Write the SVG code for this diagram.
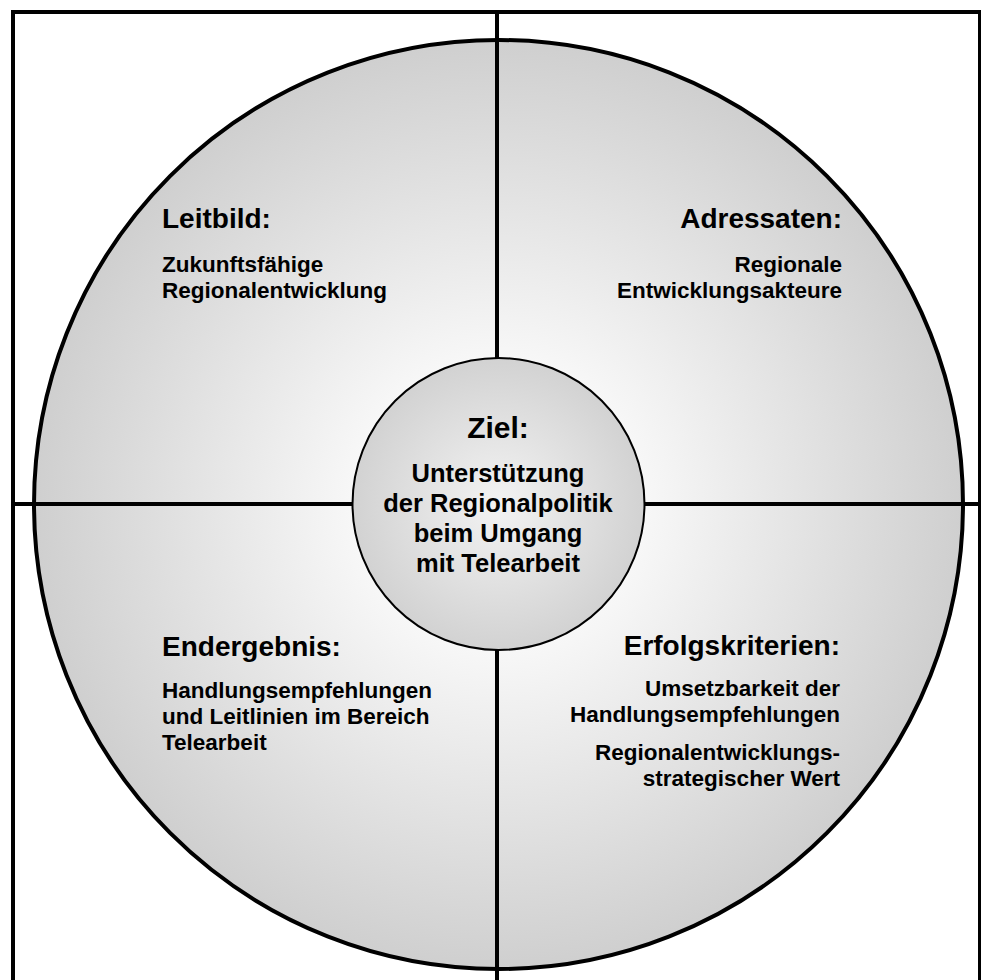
<svg xmlns="http://www.w3.org/2000/svg" width="981" height="980" viewBox="0 0 981 980">
  <defs>
    <radialGradient id="outerFill" cx="498.5" cy="504.5" r="464.5" gradientUnits="userSpaceOnUse">
      <stop offset="0" stop-color="#ffffff"/>
      <stop offset="0.25" stop-color="#fbfbfb"/>
      <stop offset="1" stop-color="#cfcfcf"/>
    </radialGradient>
    <radialGradient id="innerFill" cx="498.5" cy="504" r="146" gradientUnits="userSpaceOnUse">
      <stop offset="0" stop-color="#f3f3f3"/>
      <stop offset="1" stop-color="#d2d2d2"/>
    </radialGradient>
  </defs>
  <style>
    .title { font-family: "Liberation Sans", Arial, sans-serif; font-weight: bold; font-size: 28px; fill: #000; }
    .body { font-family: "Liberation Sans", Arial, sans-serif; font-weight: bold; font-size: 22.5px; fill: #000; }
    .ztitle { font-family: "Liberation Sans", Arial, sans-serif; font-weight: bold; font-size: 30px; fill: #000; text-anchor: middle; }
    .zbody { font-family: "Liberation Sans", Arial, sans-serif; font-weight: bold; font-size: 25.5px; fill: #000; text-anchor: middle; }
    .end { text-anchor: end; }
    .axis { stroke: #000; stroke-width: 4; fill: none; }
  </style>

  <rect width="981" height="980" fill="#ffffff"/>

  <!-- outer frame, its bottom edge lies below the visible area -->
  <g id="frame">
    <rect x="13" y="12" width="967" height="1000" fill="none" stroke="#000" stroke-width="4"/>
  </g>

  <!-- large circle with the four fields -->
  <g id="outer-circle">
    <circle cx="498.5" cy="504.5" r="464.5" fill="url(#outerFill)" stroke="#000" stroke-width="4"/>
  </g>

  <!-- dividing cross -->
  <g id="connectors">
    <line class="axis" x1="497" y1="12" x2="497" y2="985"/>
    <line class="axis" x1="13" y1="504" x2="978" y2="504"/>
  </g>

  <g id="leitbild">
    <text class="title" x="162" y="228">Leitbild:</text>
    <text class="body" x="162" y="272">Zukunftsfähige</text>
    <text class="body" x="162" y="298">Regionalentwicklung</text>
  </g>

  <g id="adressaten">
    <text class="title end" x="842" y="228">Adressaten:</text>
    <text class="body end" x="842" y="272">Regionale</text>
    <text class="body end" x="842" y="298">Entwicklungsakteure</text>
  </g>

  <g id="endergebnis">
    <text class="title" x="162" y="656">Endergebnis:</text>
    <text class="body" x="162" y="698">Handlungsempfehlungen</text>
    <text class="body" x="162" y="724">und Leitlinien im Bereich</text>
    <text class="body" x="162" y="750">Telearbeit</text>
  </g>

  <g id="erfolgskriterien">
    <text class="title end" x="840" y="655">Erfolgskriterien:</text>
    <text class="body end" x="840" y="696">Umsetzbarkeit der</text>
    <text class="body end" x="840" y="722">Handlungsempfehlungen</text>
    <text class="body end" x="840" y="760">Regionalentwicklungs-</text>
    <text class="body end" x="840" y="786">strategischer Wert</text>
  </g>

  <g id="ziel">
    <circle cx="498.5" cy="504" r="146" fill="url(#innerFill)" stroke="#000" stroke-width="2"/>
    <text class="ztitle" x="498" y="438">Ziel:</text>
    <text class="zbody" x="498" y="482">Unterstützung</text>
    <text class="zbody" x="498" y="512">der Regionalpolitik</text>
    <text class="zbody" x="498" y="542">beim Umgang</text>
    <text class="zbody" x="498" y="572">mit Telearbeit</text>
  </g>
</svg>
